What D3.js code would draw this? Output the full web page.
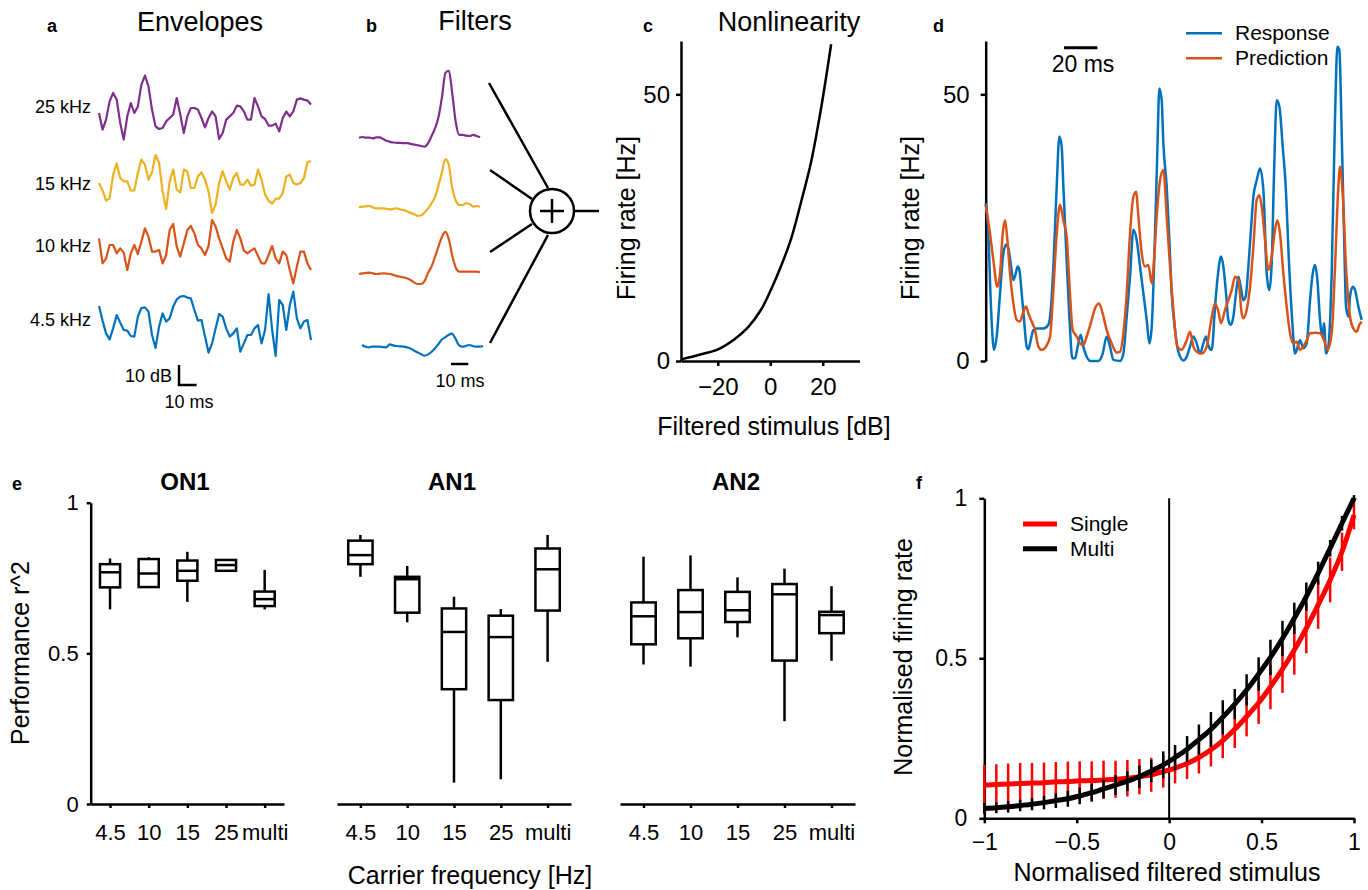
<!DOCTYPE html>
<html>
<head>
<meta charset="utf-8">
<script src="https://cdn.jsdelivr.net/npm/d3@7"></script>
<style>
  body { margin: 0; background: #fff; }
</style>
</head>
<body>
<svg id="fig" width="1368" height="890"></svg>
<script>
// ---------- data ----------
// a: stimulus envelopes (dB re. mean), one sample every 2 ms
const envStepMs = 2;
const envLabels = ["25 kHz", "15 kHz", "10 kHz", "4.5 kHz"];
const traceColors = ["#7E2F8E", "#EDB120", "#D95319", "#0072BD"];
const env25 = [0,-8.3,-3.3,5.8,10,6.7,-5,-13.3,-1.7,5,0,3.3,14.2,18.7,13.3,1.7,-6.7,-8,-7.5,-4.2,-2.5,-0.8,7.5,-0.8,-10,-1.7,2.5,2.5,1.7,-2.5,-7.2,-2.5,0.8,-1.7,-13,-10,-3.3,-1.7,0,3.7,3.3,0.8,-3.3,-3.3,7.5,3.3,-1.7,-3,-6.3,-6.3,-5.3,-9.2,-2.5,0.8,-1.7,0.8,6.7,7.3,6.7,6.2,4.2];
const env15 = [0,-3.7,-8.8,-7.7,4.2,9.7,2.5,0.8,0.8,-3.8,-3.7,5,11.7,9.2,1.7,5.3,14,10,-4.2,-13,0.8,6.7,-3.3,-4.7,6.7,5.8,-2.5,-2.5,3.3,5.3,1.7,-4.2,-15,-10.8,0,5.8,0.8,-3.3,2.5,5,-0.8,-0.8,1.7,-1.3,-0.8,6.7,1.7,-5.8,-8.8,-10.3,-7.8,-7.8,-5,3.3,4.2,0,-0.8,0,2.5,10.5,11];
const env10 = [5.8,-6.7,-4.2,2.5,2.5,-1.7,0.8,-1.3,-10,-1.7,2.5,-2,4.2,10.8,6.7,-0.8,-0.8,0,-6.7,-2.5,10,13,1.7,-3.3,3.3,10,12,8.3,2.5,0.8,-2.5,2,15,11.7,5.8,0.8,-4.2,-5.8,4.2,10,5.8,-0.3,-1.7,-0.3,0.8,-3,-6.7,-6.7,-2.5,2,-4.2,-6.7,-0.8,-2.5,-10,-16.7,-8.3,-0.8,-0.8,-6.7,-10];
const env45 = [7,-0.3,-6.7,-9.7,-4.2,2.5,-1.3,-5,-5.3,-8,-8.3,1.7,6,6.3,4.2,-7.5,-14,-3.3,3.3,-0.8,0.8,6.7,10.3,11.7,12,11.2,10.8,5,-0.3,0,-8.3,-16.3,-11.7,-4.2,3,1.7,-4.2,-8.3,-6.7,-4.2,-15.8,-11.7,-7.5,-7.5,-4.2,-2.5,-11.7,-5,13,-5,-18,10,7.5,-5,7.5,14.2,0.8,-4.2,-0.8,0,-10];

// b: linear filters (a.u.), one sample every 2 ms
const filtStepMs = 2;
const filt25 = [0,0.01,0,0,-0.01,0.005,0.005,-0.02,-0.045,-0.06,-0.07,-0.075,-0.075,-0.08,-0.08,-0.09,-0.1,-0.11,-0.12,-0.13,-0.08,0.025,0.135,0.3,0.59,0.94,0.97,0.63,0.22,0.04,0.04,0.03,0.025,0.04,0.025,0.005];
const filt15 = [-0.01,0,0.005,0.01,-0.01,-0.025,-0.025,-0.025,-0.03,-0.04,-0.03,-0.025,-0.04,-0.05,-0.07,-0.09,-0.11,-0.135,-0.125,-0.08,-0.025,0.05,0.145,0.31,0.5,0.69,0.6,0.26,0.09,0.025,0.025,0.05,0.04,0,0.01,0];
const filt10 = [-0.01,0,0.005,0.01,0,-0.01,-0.005,0,-0.005,-0.01,-0.025,-0.04,-0.05,-0.06,-0.075,-0.1,-0.135,-0.155,-0.155,-0.11,0.01,0.1,0.24,0.39,0.53,0.6,0.49,0.25,0.08,0.025,0.025,0.025,0.025,0.025,0.025,0.015];
const filt45 = [0.025,0,-0.01,0,0,0,-0.005,-0.01,0.035,0.02,0.01,0.005,0,-0.01,-0.025,-0.055,-0.08,-0.105,-0.13,-0.115,-0.08,-0.03,0.03,0.1,0.135,0.17,0.19,0.12,0.025,0,0.01,0.025,0.01,0,0,0.01];

// c: static nonlinearity
const nlStim = [-33.9,-26.3,-19.9,-13.6,-8.5,-3.4,0.4,4.2,8,11.8,15.6,19.4,23.2];
const nlRate = [0.3,1.26,2.2,4.1,6.3,9.7,13.5,17.9,23,29.9,37.4,47.5,59.4];

// d: response vs prediction (ms, Hz)
const respT = [0,1.6,3,5,6.6,8.6,10.6,12.2,13.6,15,16.6,18,19.2,20.2,21.6,23,24.6,25.6,27,28.6,30.6,34.6,37.6,39.2,40.6,42.6,44.2,45.6,46.6,48.2,50.2,52,53.6,55,57,58.6,60.6,63,67.6,70.2,72.6,74.6,76.6,80.6,82.6,84.6,86.6,88.6,90.6,92.6,94.6,96.6,98.2,99.6,101.6,103,104.2,105.6,106.6,108.6,110.2,111.6,113.6,115.6,118.6,120.6,122.6,124.6,126.6,128.6,130.6,132.2,133.8,135.6,137.6,139.2,141.2,142.6,144.2,145.6,147,148.6,150.2,151.6,153,154.6,156,157.6,159,160.6,162.6,164.6,166.6,168.6,170.2,171.6,173,174.6,176.2,178.2,180,182,184,185.6,187.2,188.6,190.6,192.6,194.6,196.2,197.6,199,200.6,201.8,203,204.2,205.6,207.6,209.6,211,212.2,213.6,215,216.2,217.6,218.6,220.2,221.6,223.6,225.6];
const respV = [29.6,23.9,11.4,2.1,4.6,12.7,20.2,21.8,21.1,18.3,15.2,16.4,17.7,17.1,12.7,7.7,2.7,2.2,3.9,5.8,6.1,6.1,6.8,10.2,17.7,32.7,42.1,40.2,32.7,21.4,8.3,0.5,0.5,2.4,4.9,2.7,0.8,0,0,1.4,4.6,2.7,0.2,0,1.4,8.3,15.8,24.6,22.7,17.7,12.7,7.7,3.3,6.4,23.9,39.6,51.1,48.9,40.8,32.7,22.7,12.7,5.8,1.75,0.1,0.8,2.7,4.6,3.3,1.4,3.3,4.6,2.7,2.1,10.2,15.8,19.6,17.7,12.7,7.7,6.8,8.3,12.7,15.8,13.9,11.4,12.1,17.7,23.9,30.8,33.9,36.1,32.1,16.4,13.3,18.3,35.2,48.9,47.7,40.2,32.7,18.3,7.1,1.4,2.7,3.9,2.4,3.3,11.4,16.4,18,15.2,7.7,4.6,7.1,1.4,2.7,16.4,45.8,58.9,58.3,42.7,23.9,10.2,8.3,12.1,13.9,13.3,10.2,7.7];
const predT = [0,2.6,4.6,7,8.6,10.2,11.6,13,14.6,16.6,18.6,20.6,22.6,24.2,25.6,27.6,29.6,31.6,33.6,36.2,38.6,40.6,42.6,44.6,46.6,48.6,50.2,52.2,54.6,56.6,58.6,60.6,63.6,65.6,68,70.2,72.6,75.6,78.6,80.6,82.6,84.6,86.6,88.6,90.2,91.6,93.6,95.6,97.6,99.6,101,102.6,104.6,106.6,108.6,110.6,112.6,115,117.6,120.6,122.6,124.6,126.6,129.6,132.6,135,137.6,139.6,141.2,143.6,145.6,147.6,149.6,151.6,153.6,154.6,156.6,158.6,160.6,162.6,164.2,165.6,167.6,169.6,171.6,173.6,175,176.6,178.6,180.6,182.6,184.6,186.6,188.6,190.6,192.6,194.6,197.6,200.6,203,205,207.6,209.6,211.6,212.6,214.2,216.2,218.6,220.6,222.6,224.2,225.6];
const predV = [29.3,23.9,18.9,13.9,16.4,23.9,26.4,22.7,16.4,10.8,7.7,7.4,9.3,10.2,8.9,7.4,5.8,2.7,2.1,2.7,4.6,13.3,23.9,29.3,26.4,23.3,14.6,5.8,4.6,3.3,3,4.6,7.7,9.9,10.8,8.9,5.8,3.3,1.6,1.75,5.2,12.7,23.9,30.8,31.75,27.1,20.2,17.7,18,14.6,18.9,27.1,33.9,35.8,27.1,17.7,9.6,2.7,2.1,3.9,5.5,2.7,1.75,1.4,2.7,7.1,10.8,9.3,7.1,9.6,11.4,13.3,15.8,15.2,8.9,8,9.6,13.9,21.4,30.2,31.1,28.9,22.7,17.1,19.6,24.6,26.4,23.9,16.4,10.2,5.2,3.3,3.6,2.1,2.7,3.9,5.2,5.3,5.2,3.9,2.1,5.2,17.7,32.7,36.4,31.4,17.7,8.3,6.1,5.5,6.8,7.4];

// e: model performance, [low whisker, q1, median, q3, high whisker]
const boxCategories = ["4.5", "10", "15", "25", "multi"];
const on1Box = [[0.646,0.719,0.769,0.796,0.815],[0.72,0.72,0.765,0.813,0.819],[0.671,0.741,0.774,0.808,0.837],[0.774,0.774,0.793,0.81,0.813],[0.646,0.657,0.68,0.705,0.777]];
const an1Box = [[0.754,0.796,0.826,0.874,0.893],[0.603,0.635,0.746,0.754,0.79],[0.071,0.381,0.571,0.649,0.688],[0.082,0.345,0.554,0.625,0.647],[0.472,0.642,0.779,0.848,0.893]];
const an2Box = [[0.463,0.53,0.623,0.669,0.821],[0.456,0.55,0.637,0.71,0.825],[0.553,0.604,0.643,0.704,0.752],[0.275,0.476,0.696,0.73,0.781],[0.475,0.567,0.627,0.638,0.723]];

// f: normalised nonlinearities
const normStim = [-1,-0.935,-0.871,-0.806,-0.742,-0.677,-0.613,-0.548,-0.484,-0.419,-0.355,-0.290,-0.226,-0.161,-0.097,-0.032,0.032,0.097,0.161,0.226,0.290,0.355,0.419,0.484,0.548,0.613,0.677,0.742,0.806,0.871,0.935,1];
const singleMean = [0.104,0.106,0.107,0.109,0.110,0.111,0.114,0.115,0.117,0.118,0.120,0.122,0.125,0.130,0.136,0.146,0.157,0.171,0.190,0.214,0.243,0.278,0.318,0.361,0.411,0.466,0.526,0.594,0.667,0.745,0.833,0.948];
const singleErr = [0.063,0.063,0.064,0.064,0.063,0.063,0.062,0.062,0.061,0.060,0.060,0.058,0.057,0.055,0.053,0.050,0.048,0.048,0.050,0.052,0.055,0.058,0.062,0.066,0.070,0.074,0.077,0.078,0.075,0.070,0.060,0.045];
const multiMean = [0.031,0.033,0.036,0.040,0.044,0.049,0.055,0.061,0.070,0.080,0.092,0.104,0.116,0.130,0.148,0.167,0.190,0.216,0.246,0.278,0.316,0.357,0.401,0.451,0.503,0.562,0.625,0.693,0.766,0.844,0.922,1.0];
const multiErr = [0.017,0.017,0.018,0.018,0.019,0.021,0.023,0.025,0.026,0.028,0.029,0.031,0.031,0.035,0.035,0.042,0.039,0.041,0.047,0.054,0.053,0.047,0.049,0.052,0.055,0.055,0.049,0.044,0.036,0.026,0.023,0.01];

// ---------- drawing ----------
const FONT = '"Liberation Sans", Arial, Helvetica, sans-serif';
const svg = d3.select("#fig");

function txt(x, y, s, size, opts = {}) {
  const t = svg.append("text")
    .attr("x", x).attr("y", y)
    .attr("font-family", FONT)
    .attr("font-size", size)
    .attr("fill", "#000")
    .text(s);
  if (opts.anchor) t.attr("text-anchor", opts.anchor);
  if (opts.bold) t.attr("font-weight", "bold");
  if (opts.rotate) t.attr("transform", `rotate(-90 ${x} ${y})`);
  return t;
}

function seg(x1, y1, x2, y2, w, color) {
  svg.append("line")
    .attr("x1", x1).attr("y1", y1).attr("x2", x2).attr("y2", y2)
    .attr("stroke", color || "#000").attr("stroke-width", w);
}

function styleAxis(g, size) {
  g.attr("font-family", FONT).attr("font-size", size);
  g.select(".domain").attr("stroke-width", 2.5);
  g.selectAll(".tick line").attr("stroke-width", 2.5);
  g.selectAll(".tick text").attr("fill", "#000");
}

const fmt = d => d < 0 ? "\u2212" + Math.abs(d) : String(d);

// panel letters
[["a", 47, 32], ["b", 366, 32], ["c", 643, 32], ["d", 933, 32], ["e", 12, 490], ["f", 916, 489]]
  .forEach(p => txt(p[1], p[2], p[0], 18, { bold: true }));

// ---- a: envelopes ----
txt(200, 31, "Envelopes", 27, { anchor: "middle" });
const envX = d3.scaleLinear().domain([0, 120]).range([99, 311]);
const envDb = d3.scaleLinear().domain([0, 10]).range([0, -20]);
const envRowY = [113, 183, 250, 320];
const envLabelY = [113, 190, 252, 326];
[env25, env15, env10, env45].forEach((vals, k) => {
  const line = d3.line()
    .x((d, i) => envX(i * envStepMs))
    .y(d => envRowY[k] + envDb(d));
  svg.append("path").datum(vals)
    .attr("d", line)
    .attr("fill", "none")
    .attr("stroke", traceColors[k])
    .attr("stroke-width", 2.2)
    .attr("stroke-linejoin", "round");
  txt(91, envLabelY[k], envLabels[k], 18, { anchor: "end" });
});
// scale bar 10 dB / 10 ms
const aBarX = 179, aBarY = 385;
svg.append("path")
  .attr("d", `M${aBarX},${aBarY + envDb(10)}V${aBarY}H${aBarX + envX(10) - envX(0)}`)
  .attr("fill", "none").attr("stroke", "#000").attr("stroke-width", 2.5);
txt(172, 382, "10 dB", 18, { anchor: "end" });
txt(189, 408, "10 ms", 18, { anchor: "middle" });

// ---- b: filters ----
txt(475, 30, "Filters", 27, { anchor: "middle" });
const filtX = d3.scaleLinear().domain([0, 70]).range([359, 480]);
const filtAmp = d3.scaleLinear().domain([0, 1]).range([0, -69]);
const filtBase = [137.7, 206.7, 273.3, 346.7];
[filt25, filt15, filt10, filt45].forEach((vals, k) => {
  const line = d3.line()
    .x((d, i) => filtX(i * filtStepMs) + (k === 3 ? 3 : 0))
    .y(d => filtBase[k] + filtAmp(d))
    .curve(d3.curveMonotoneX);
  svg.append("path").datum(vals)
    .attr("d", line)
    .attr("fill", "none")
    .attr("stroke", traceColors[k])
    .attr("stroke-width", 2.2);
});
seg(451, 364, 451 + filtX(10) - filtX(0), 364, 2.5);
txt(460, 387, "10 ms", 18, { anchor: "middle" });

// summation node
const sumC = { x: 552, y: 211, r: 22 };
[[489, 83, 548, 188], [490, 170, 532, 199], [490, 252, 532, 224], [490, 343, 548, 235]]
  .forEach(l => seg(l[0], l[1], l[2], l[3], 2.5));
seg(sumC.x + sumC.r, sumC.y, 599, sumC.y, 2.5);
svg.append("circle")
  .attr("cx", sumC.x).attr("cy", sumC.y).attr("r", sumC.r)
  .attr("fill", "#fff").attr("stroke", "#000").attr("stroke-width", 2.5);
seg(sumC.x - 12, sumC.y, sumC.x + 12, sumC.y, 2.5);
seg(sumC.x, sumC.y - 12, sumC.x, sumC.y + 12, 2.5);

// ---- c: nonlinearity ----
txt(789, 31, "Nonlinearity", 27, { anchor: "middle" });
const cX = d3.scaleLinear().domain([-34, 34]).range([681, 859.5]);
const cY = d3.scaleLinear().domain([0, 60]).range([361, 41]);
styleAxis(svg.append("g").attr("transform", "translate(0,361)")
  .call(d3.axisBottom(cX).tickValues([-20, 0, 20]).tickFormat(fmt)
    .tickSize(5).tickPadding(12).tickSizeOuter(0)), 24);
styleAxis(svg.append("g").attr("transform", "translate(681,0)")
  .call(d3.axisLeft(cY).tickValues([0, 50]).tickFormat(fmt)
    .tickSize(5).tickPadding(6).tickSizeOuter(0)), 24);
svg.append("path").datum(nlStim.map((s, i) => [s, nlRate[i]]))
  .attr("d", d3.line().x(d => cX(d[0])).y(d => cY(d[1])).curve(d3.curveCatmullRom))
  .attr("fill", "none").attr("stroke", "#000").attr("stroke-width", 2.5);
txt(635, 218, "Firing rate [Hz]", 25, { anchor: "middle", rotate: true });
txt(774, 435, "Filtered stimulus [dB]", 25, { anchor: "middle" });

// ---- d: response vs prediction ----
const dX = d3.scaleLinear().domain([0, 225.6]).range([985.7, 1361.7]);
const dY = d3.scaleLinear().domain([0, 60]).range([361, 41]);
styleAxis(svg.append("g").attr("transform", "translate(985.7,0)")
  .call(d3.axisLeft(dY).tickValues([0, 50]).tickFormat(fmt)
    .tickSize(5).tickPadding(11).tickSizeOuter(0)), 24);
const dLine = d3.line().x(d => dX(d[0])).y(d => dY(d[1])).curve(d3.curveMonotoneX);
svg.append("path").datum(respT.map((t, i) => [t, respV[i]]))
  .attr("d", dLine).attr("fill", "none").attr("stroke", "#0072BD").attr("stroke-width", 2.5);
svg.append("path").datum(predT.map((t, i) => [t, predV[i]]))
  .attr("d", dLine).attr("fill", "none").attr("stroke", "#D95319").attr("stroke-width", 2.5);
txt(919, 218, "Firing rate [Hz]", 25, { anchor: "middle", rotate: true });
seg(dX(47), 47.7, dX(67), 47.7, 3);
txt(1083, 72, "20 ms", 23, { anchor: "middle" });
seg(1186, 33.3, 1222, 33.3, 2.5, "#0072BD");
seg(1186, 58.3, 1222, 58.3, 2.5, "#D95319");
txt(1235, 40, "Response", 21);
txt(1235, 65, "Prediction", 21);

// ---- e: performance boxes ----
const eY = d3.scaleLinear().domain([0, 1]).range([804, 502.7]);
const eGroups = [
  { title: "ON1", range: [90.7, 284], data: on1Box, titleX: 185, yAxis: true },
  { title: "AN1", range: [337, 571], data: an1Box, titleX: 452 },
  { title: "AN2", range: [620, 855], data: an2Box, titleX: 736 }
];
eGroups.forEach(grp => {
  const x = d3.scalePoint().domain(boxCategories).range(grp.range).padding(0.5);
  const bw = x.step() * 0.52;
  styleAxis(svg.append("g").attr("transform", "translate(0,804)")
    .call(d3.axisBottom(x).tickSize(4).tickPadding(16).tickSizeOuter(0)), 22);
  if (grp.yAxis) {
    styleAxis(svg.append("g").attr("transform", `translate(${grp.range[0]},0)`)
      .call(d3.axisLeft(eY).tickValues([0, 0.5, 1]).tickFormat(fmt)
        .tickSize(4).tickPadding(8).tickSizeOuter(0)), 22);
  }
  grp.data.forEach((b, i) => {
    const cx = x(boxCategories[i]);
    seg(cx, eY(b[0]), cx, eY(b[1]), 2.5);
    seg(cx, eY(b[3]), cx, eY(b[4]), 2.5);
    svg.append("rect")
      .attr("x", cx - bw / 2).attr("y", eY(b[3]))
      .attr("width", bw).attr("height", eY(b[1]) - eY(b[3]))
      .attr("fill", "#fff").attr("stroke", "#000").attr("stroke-width", 2.5);
    seg(cx - bw / 2, eY(b[2]), cx + bw / 2, eY(b[2]), 2.5);
  });
  txt(grp.titleX, 490, grp.title, 24, { anchor: "middle", bold: true });
});
txt(29, 653, "Performance r^2", 25, { anchor: "middle", rotate: true });
txt(470, 884, "Carrier frequency [Hz]", 25, { anchor: "middle" });

// ---- f: normalised nonlinearities ----
const fX = d3.scaleLinear().domain([-1, 1]).range([984.3, 1354]);
const fY = d3.scaleLinear().domain([0, 1]).range([818.3, 498.3]);
styleAxis(svg.append("g").attr("transform", "translate(0,818.3)")
  .call(d3.axisBottom(fX).tickValues([-1, -0.5, 0, 0.5, 1]).tickFormat(fmt)
    .tickSize(5).tickPadding(10).tickSizeOuter(0)), 23);
styleAxis(svg.append("g").attr("transform", "translate(984.3,0)")
  .call(d3.axisLeft(fY).tickValues([0, 0.5, 1]).tickFormat(fmt)
    .tickSize(5).tickPadding(12).tickSizeOuter(0)), 23);
seg(fX(0), fY(0), fX(0), fY(1), 2);

const fLine = d3.line().x(d => fX(d[0])).y(d => fY(d[1])).curve(d3.curveMonotoneX);
[[singleMean, singleErr, "#FF0000"], [multiMean, multiErr, "#000"]].forEach(([m, e, col]) => {
  normStim.forEach((s, i) => seg(fX(s), fY(m[i] - e[i]), fX(s), fY(m[i] + e[i]), 2.5, col));
  svg.append("path").datum(normStim.map((s, i) => [s, m[i]]))
    .attr("d", fLine).attr("fill", "none").attr("stroke", col).attr("stroke-width", 5);
});
seg(1023, 524, 1057, 524, 5, "#FF0000");
seg(1023, 548.7, 1057, 548.7, 5, "#000");
txt(1070, 531, "Single", 21);
txt(1070, 556, "Multi", 21);
txt(912, 657, "Normalised firing rate", 25, { anchor: "middle", rotate: true });
txt(1167, 881, "Normalised filtered stimulus", 25, { anchor: "middle" });
</script>
</body>
</html>
